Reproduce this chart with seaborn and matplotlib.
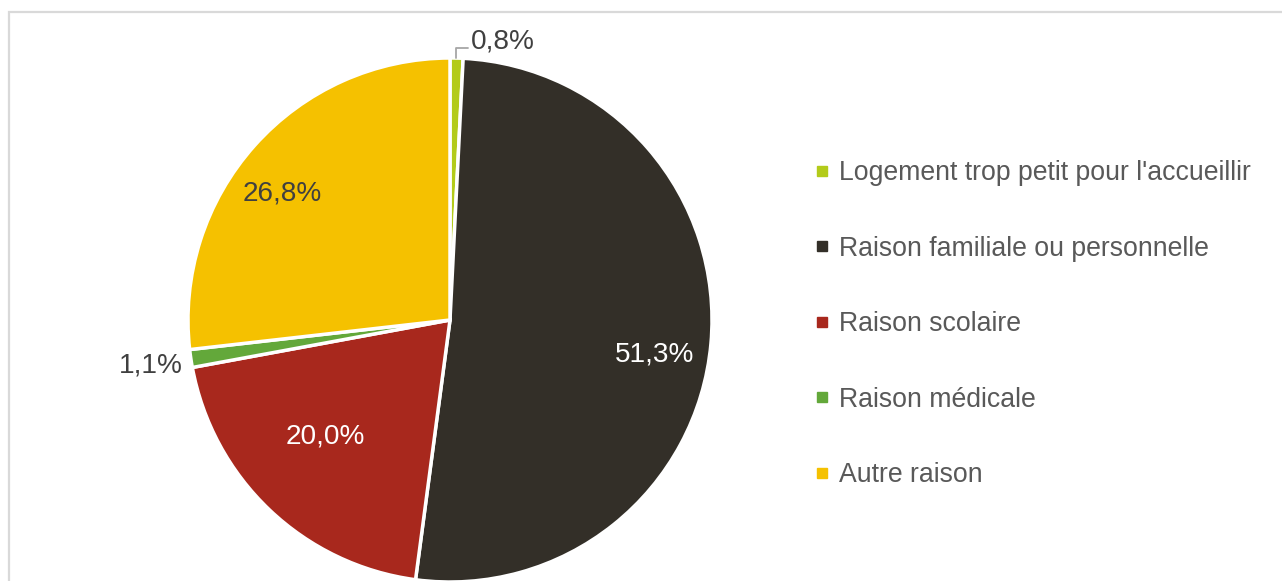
import matplotlib
matplotlib.use('Agg')
import matplotlib.pyplot as plt
import seaborn as sns
import numpy as np
from matplotlib.patches import Rectangle
from matplotlib.lines import Line2D

sns.set_theme(style="white")
plt.rcParams['font.family'] = ['Liberation Sans', 'DejaVu Sans']

categories = ["Logement trop petit pour l'accueillir",
              "Raison familiale ou personnelle",
              "Raison scolaire",
              "Raison médicale",
              "Autre raison"]
values = [0.8, 51.3, 20.0, 1.1, 26.8]
labels = ["0,8%", "51,3%", "20,0%", "1,1%", "26,8%"]
colors = ["#B3CB1A", "#332F28", "#A8281D", "#63A83A", "#F5C100"]

W, H = 1282, 581
fig = plt.figure(figsize=(W / 100, H / 100), dpi=100)
ax = fig.add_axes([0, 0, 1, 1])

# chart frame
ax.add_patch(Rectangle((9, -5), W + 10, H - 12 + 5, fill=False,
                       edgecolor="#D9D9D9", linewidth=1.6, zorder=0))

cx, cy, R = 450, H - 320, 262
wedges, _ = ax.pie(values, colors=colors, startangle=90, counterclock=False,
                   center=(cx, cy), radius=R, frame=True,
                   wedgeprops=dict(edgecolor='white', linewidth=2.5))
ax.set_xlim(0, W)
ax.set_ylim(0, H)
ax.set_aspect('equal')
ax.axis('off')

# inside labels: (radius fraction, angle shift in degrees, colour)
inside = {1: (0.79, -4.3, 'white'), 2: (0.65, -3.3, 'white'), 4: (0.80, 4.7, '#404040')}
for i, (dist, shift, col) in inside.items():
    w = wedges[i]
    ang = np.deg2rad((w.theta1 + w.theta2) / 2 + shift)
    ax.text(cx + dist * R * np.cos(ang), cy + dist * R * np.sin(ang), labels[i],
            ha='center', va='center', fontsize=20.2, color=col)

# outside labels
ax.plot([456, 456, 468], [H - 58, H - 48, H - 48], color='#A6A6A6', lw=1.3)
ax.text(471, H - 42, labels[0], ha='left', va='center', fontsize=20.2, color='#404040')
ax.text(183, H - 365, labels[3], ha='right', va='center', fontsize=20.2, color='#404040')

handles = [Line2D([0], [0], marker='s', linestyle='none', markersize=7,
                  markerfacecolor=c, markeredgecolor=c) for c in colors]
leg = ax.legend(handles, categories, loc='upper left',
                bbox_to_anchor=(802 / W, 1 - 147 / H), bbox_transform=fig.transFigure,
                frameon=False, fontsize=19.2, labelspacing=1.855,
                handlelength=0.5, handletextpad=0.38, borderpad=0)
for t in leg.get_texts():
    t.set_color('#595959')

fig.savefig("out.png", dpi=100)
plt.close(fig)
